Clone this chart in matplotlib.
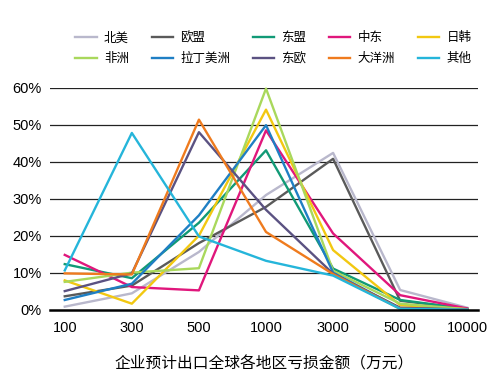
import matplotlib
matplotlib.use("Agg")
import matplotlib.pyplot as plt

plt.rcParams['font.family'] = ['Liberation Sans', 'Noto Sans CJK SC', 'DejaVu Sans']

# 亏损金额分档（万元）
categories = ["100", "300", "500", "1000", "3000", "5000", "10000"]

# 各地区占比 (%)
north_america = [0.8, 4.4, 15.6, 31.0, 42.4, 5.3, 0.5]
eu = [3.6, 6.5, 18.0, 27.8, 40.8, 2.4, 0.2]
asean = [12.3, 8.5, 23.5, 43.1, 11.1, 2.6, 0.2]
middle_east = [14.8, 6.1, 5.2, 48.5, 20.6, 3.9, 0.3]
japan_korea = [7.9, 1.6, 20.0, 54.1, 16.1, 1.2, 0.1]
africa = [7.5, 10.0, 11.2, 59.8, 10.5, 1.6, 0.1]
latin_america = [2.6, 7.0, 25.5, 49.9, 10.0, 0.3, 0.0]
east_europe = [5.0, 9.8, 48.0, 27.0, 9.7, 0.5, 0.0]
oceania = [9.8, 9.5, 51.4, 21.0, 9.6, 0.2, 0.0]
others = [10.6, 47.8, 19.8, 13.2, 9.2, 0.2, 0.0]

names = ["北美", "欧盟", "东盟", "中东", "日韩", "非洲", "拉丁美洲", "东欧", "大洋洲", "其他"]
series = [north_america, eu, asean, middle_east, japan_korea,
          africa, latin_america, east_europe, oceania, others]
colors = ["#b9b8cc", "#5a5a5a", "#119a76", "#e0177c", "#f2c811",
          "#a9d85c", "#1f7fc4", "#5b5282", "#ef7b1e", "#25b5da"]

fig = plt.figure(figsize=(5.0, 3.87), dpi=100)
ax = fig.add_axes([0.1, 0.2, 0.856, 0.573])

x = list(range(len(categories)))
handles = []
for name, vals, c in zip(names, series, colors):
    h, = ax.plot(x, vals, color=c, lw=1.7, label=name, clip_on=False)
    handles.append(h)

ax.set_ylim(0, 60)
ax.set_xlim(-0.22, 6.16)
ax.set_yticks(range(0, 61, 10))
ax.set_yticklabels([f"{v}%" for v in range(0, 61, 10)], fontsize=10.5)
ax.set_xticks(x)
ax.set_xticklabels(categories, fontsize=10.5)
ax.tick_params(length=0, pad=6)
ax.tick_params(axis='x', pad=8)
for v in range(10, 61, 10):
    ax.axhline(v, color="#222222", lw=0.9, zorder=0)
for s in ["top", "right", "left"]:
    ax.spines[s].set_visible(False)
ax.spines["bottom"].set_linewidth(1.8)
ax.spines["bottom"].set_color("black")

ax.set_xlabel("企业预计出口全球各地区亏损金额（万元）", fontsize=11.3,
              family=['Noto Sans CJK SC', 'DejaVu Sans'], labelpad=15)

# 图例按行排列：重排顺序以适应按列填充
order = [0, 5, 1, 6, 2, 7, 3, 8, 4, 9]
fig.legend([handles[i] for i in order], [names[i] for i in order],
           ncol=5, loc="upper left", bbox_to_anchor=(0.128, 0.948),
           frameon=False, prop={'family': ['Noto Sans CJK SC', 'DejaVu Sans'], 'size': 9},
           handlelength=1.7, columnspacing=1.8, labelspacing=0.62, handletextpad=0.6)

fig.savefig("out.png", dpi=100, facecolor="white")
